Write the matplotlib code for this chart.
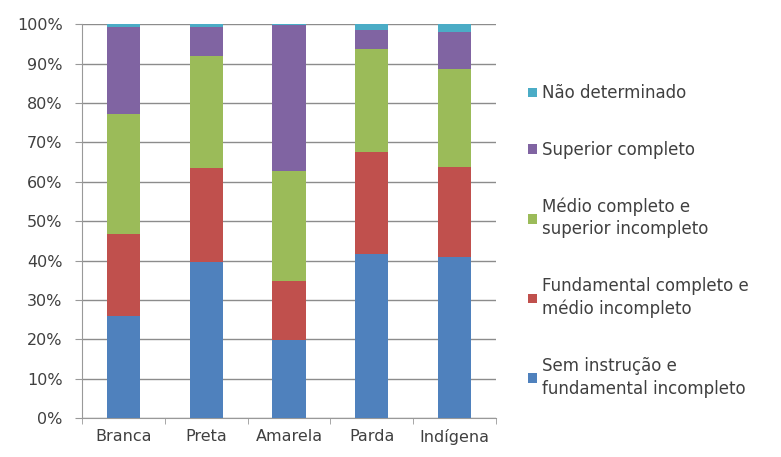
import matplotlib.pyplot as plt
import numpy as np
from matplotlib.ticker import PercentFormatter

plt.rcParams['font.family'] = ['DejaVu Sans']

categories = ['Branca', 'Preta', 'Amarela', 'Parda', 'Indígena']
series_names = ['Sem instrução e\nfundamental incompleto',
                'Fundamental completo e\nmédio incompleto',
                'Médio completo e\nsuperior incompleto',
                'Superior completo',
                'Não determinado']
sem_instrucao = [26.0, 39.6, 19.8, 41.6, 40.9]
fundamental = [20.7, 23.9, 15.0, 25.9, 22.8]
medio = [30.5, 28.4, 27.9, 26.1, 24.9]
superior = [22.0, 7.3, 37.0, 4.9, 9.4]
nao_determinado = [0.8, 0.8, 0.3, 1.5, 2.0]

values = [sem_instrucao, fundamental, medio, superior, nao_determinado]
colors = ['#4F81BD', '#C0504D', '#9BBB59', '#8064A2', '#4BACC6']

fig = plt.figure(figsize=(7.81, 4.57), dpi=100)
ax = fig.add_axes([0.105, 0.085, 0.530, 0.862])

x = np.arange(len(categories))
bottom = np.zeros(len(categories))
handles = []
for name, vals, c in zip(series_names, values, colors):
    b = ax.bar(x, vals, width=0.4, bottom=bottom, color=c, label=name, zorder=3)
    handles.append(b)
    bottom += np.array(vals)

ax.set_xlim(-0.5, len(categories) - 0.5)
ax.set_ylim(0, 100)
ax.set_yticks(np.arange(0, 101, 10))
ax.yaxis.set_major_formatter(PercentFormatter(decimals=0))
ax.set_xticks(x)
ax.set_xticklabels(categories)
ax.set_xticks(np.arange(-0.5, len(categories), 1), minor=True)
ax.tick_params(axis='x', which='major', length=0, labelsize=11.5, colors='#404040', pad=8)
ax.tick_params(axis='x', which='minor', length=4, color='#999999')
ax.tick_params(axis='y', length=5, color='#999999', labelsize=11.5, labelcolor='#404040', pad=9)
ax.grid(axis='y', color='#8c8c8c', linewidth=1, zorder=0)
for s in ['top', 'right']:
    ax.spines[s].set_visible(False)
for s in ['left', 'bottom']:
    ax.spines[s].set_color('#999999')

leg = fig.legend(handles[::-1], series_names[::-1], loc='upper left',
                 bbox_to_anchor=(0.668, 0.83), frameon=False, fontsize=12,
                 handlelength=0.5, handleheight=0.5, handletextpad=0.3,
                 labelspacing=2.3, labelcolor='#404040', borderaxespad=0)
for t in leg.get_texts():
    t.set_linespacing(1.35)

fig.savefig('out.png', dpi=100)
